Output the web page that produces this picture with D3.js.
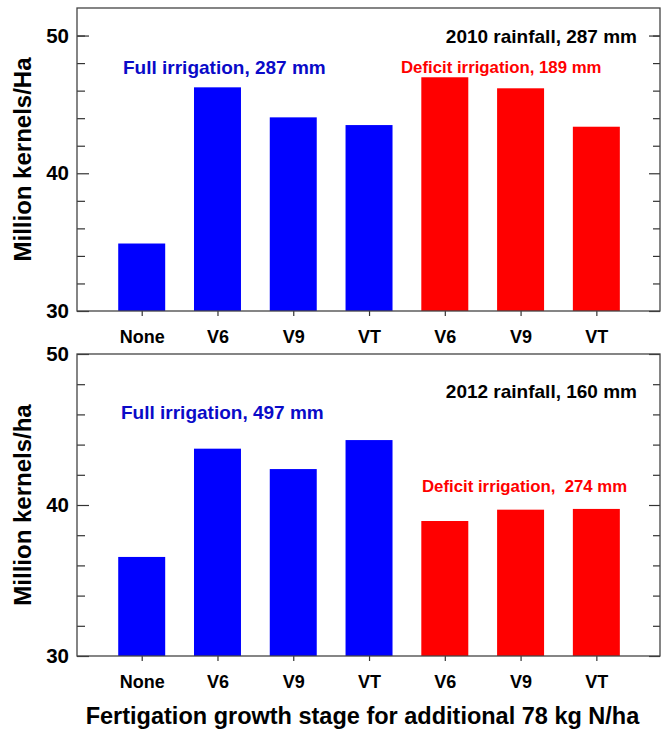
<!DOCTYPE html>
<html>
<head>
<meta charset="utf-8">
<script src="https://cdn.jsdelivr.net/npm/d3@7"></script>
<style>
  body { margin: 0; background: #fff; }
  text { font-family: "Liberation Sans", Arial, sans-serif; font-weight: bold; }
</style>
</head>
<body>
<div class="chart"></div>
<script>
// stages on the x axis (None + three for full, three for deficit irrigation)
var stages = ["None", "V6", "V9", "VT", "V6", "V9", "VT"];
var irrigation = ["Full", "Full", "Full", "Full", "Deficit", "Deficit", "Deficit"];

// million kernels per ha
var kernels2010 = [34.9, 46.24, 44.06, 43.5, 46.97, 46.17, 43.38];
var kernels2012 = [36.56, 43.73, 42.38, 44.3, 38.94, 39.69, 39.74];

var majorTicks = [30, 40, 50];
var minorTicks2010 = [32, 34, 36, 38, 42, 44, 46, 48, 50];
var minorTicks2012 = [32, 34, 36, 38, 42, 44, 46, 48];

var svgWidth = 661;
var svgHeight = 732;

var svg = d3.select(".chart")
  .append("svg")
  .attr("width", svgWidth)
  .attr("height", svgHeight);

svg.append("rect")
  .attr("width", svgWidth)
  .attr("height", svgHeight)
  .attr("fill", "#fff");

var barColor = d3.scaleOrdinal()
  .domain(["Full", "Deficit"])
  .range(["#0000ff", "#ff0000"]);

// shared x scale, stage index 1..7
var xScale = d3.scaleLinear()
  .domain([0.146, 7.84])
  .range([77, 660]);
var barWidth = xScale(1.62) - xScale(1);

function drawPanel(cfg) {
  var yScale = d3.scaleLinear()
    .domain(cfg.domain)
    .range([cfg.bottom, cfg.top]);

  var g = svg.append("g");
  var data = cfg.values.map(function(v, i) {
    return { idx: i + 1, value: v, group: irrigation[i] };
  });

  // bars
  g.selectAll("rect.bar")
    .data(data)
    .enter()
    .append("rect")
    .attr("class", "bar")
    .attr("x", d => xScale(d.idx) - barWidth / 2)
    .attr("y", d => yScale(d.value))
    .attr("width", barWidth)
    .attr("height", d => yScale(cfg.domain[0]) - yScale(d.value))
    .attr("fill", d => barColor(d.group));

  // left axis, ticks pointing inward
  var leftMajor = g.append("g")
    .attr("transform", "translate(77,0)")
    .call(d3.axisLeft(yScale).tickValues(majorTicks).tickSize(-12).tickPadding(8));
  leftMajor.selectAll("text").attr("font-size", "20.5px").attr("fill", "#000");

  g.append("g")
    .attr("transform", "translate(77,0)")
    .call(d3.axisLeft(yScale).tickValues(cfg.minor).tickSize(-8).tickFormat(""));

  // right side mirrors the ticks
  g.append("g")
    .attr("transform", "translate(660,0)")
    .call(d3.axisRight(yScale).tickValues(majorTicks).tickSize(-11).tickFormat(""));
  g.append("g")
    .attr("transform", "translate(660,0)")
    .call(d3.axisRight(yScale).tickValues(cfg.minor).tickSize(-7).tickFormat(""));

  // bottom axis
  var bottomAxis = g.append("g")
    .attr("transform", `translate(0, ${cfg.bottom})`)
    .call(d3.axisBottom(xScale)
      .tickValues(d3.range(1, stages.length + 1))
      .tickSize(5)
      .tickPadding(14)
      .tickFormat(i => stages[i - 1]));
  bottomAxis.selectAll("text").attr("font-size", "18px").attr("fill", "#000");

  g.selectAll(".domain").remove();
  g.selectAll(".tick line").attr("stroke", "#333").attr("stroke-width", 1.2);

  // frame
  g.append("rect")
    .attr("x", 77)
    .attr("y", cfg.top)
    .attr("width", 660 - 77)
    .attr("height", cfg.bottom - cfg.top)
    .attr("fill", "none")
    .attr("stroke", "#444")
    .attr("stroke-width", 1.3);

  // y title
  g.append("text")
    .attr("transform", `translate(31, ${(cfg.top + cfg.bottom) / 2}) rotate(-90)`)
    .attr("text-anchor", "middle")
    .attr("font-size", "24px")
    .attr("fill", "#000")
    .text(cfg.yTitle);

  // annotations
  cfg.notes.forEach(function(n) {
    g.append("text")
      .attr("x", n.x)
      .attr("y", n.y)
      .attr("text-anchor", n.anchor)
      .attr("font-size", n.size)
      .attr("fill", n.color)
      .text(n.text);
  });
}

drawPanel({
  top: 8, bottom: 311, domain: [30, 52],
  values: kernels2010, minor: minorTicks2010,
  yTitle: "Million kernels/Ha",
  notes: [
    { text: "2010 rainfall, 287 mm", x: 637, y: 43, anchor: "end", size: "19px", color: "#000" },
    { text: "Full irrigation, 287 mm", x: 123, y: 74, anchor: "start", size: "19px", color: "#0a0ac8" },
    { text: "Deficit irrigation, 189 mm", x: 401, y: 73, anchor: "start", size: "16.8px", color: "#ff0000" }
  ]
});

drawPanel({
  top: 354, bottom: 656, domain: [30, 50],
  values: kernels2012, minor: minorTicks2012,
  yTitle: "Million kernels/ha",
  notes: [
    { text: "2012 rainfall, 160 mm", x: 637, y: 398, anchor: "end", size: "19px", color: "#000" },
    { text: "Full irrigation, 497 mm", x: 121, y: 419, anchor: "start", size: "19px", color: "#0a0ac8" },
    { text: "Deficit irrigation,\u00a0 274 mm", x: 422, y: 492, anchor: "start", size: "16.8px", color: "#ff0000" }
  ]
});

// x title
svg.append("text")
  .attr("x", 362.5)
  .attr("y", 724)
  .attr("text-anchor", "middle")
  .attr("font-size", "23.5px")
  .attr("fill", "#000")
  .text("Fertigation growth stage for additional 78 kg N/ha");
</script>
</body>
</html>
